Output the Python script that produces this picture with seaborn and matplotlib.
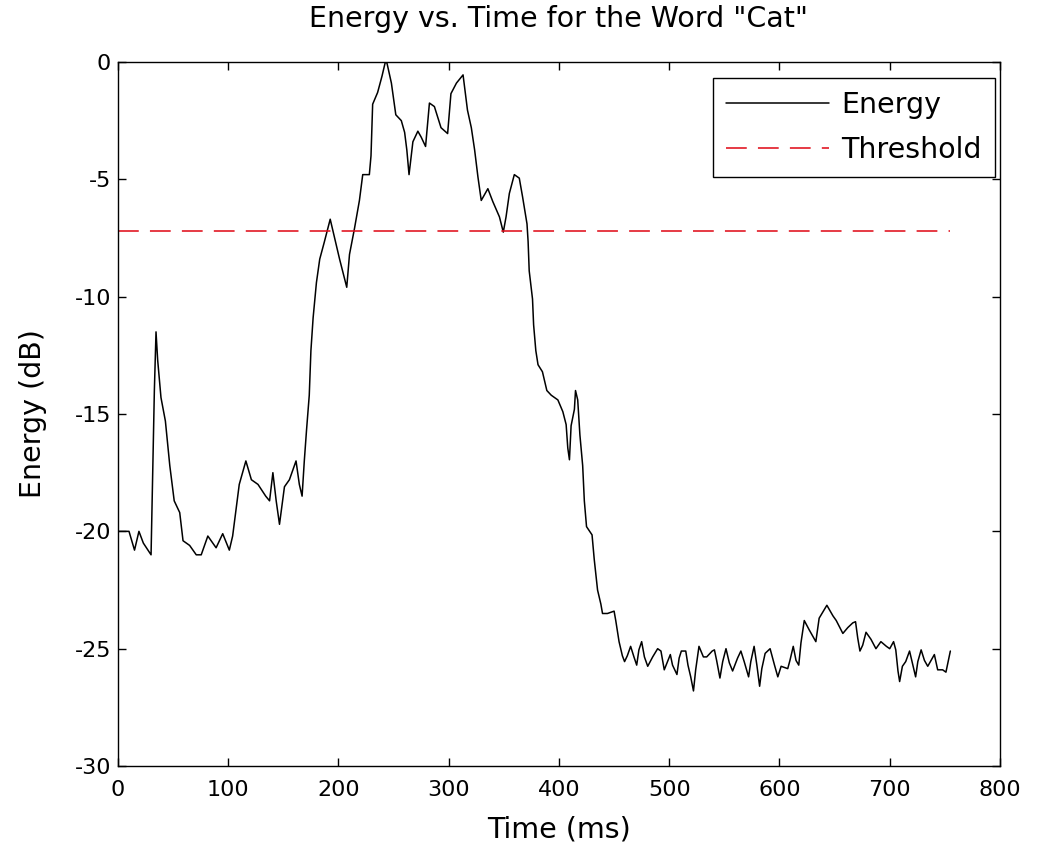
import numpy as np
import pandas as pd
import matplotlib
matplotlib.use("Agg")
import matplotlib.pyplot as plt
import seaborn as sns

# Short-time energy of the spoken word "Cat" (time in ms, energy in dB)
time_ms = [0, 10, 15, 19, 23, 30, 31, 33, 34.5, 36, 39, 43, 47, 51, 56, 59, 65, 71, 75.5,
           81.5, 89, 95, 101, 104, 107, 110, 116, 121, 127, 134, 137.5, 140.5, 143.5,
           146.5, 151, 155.5, 161.5, 164.5, 167, 169, 171, 173.5, 175, 177, 180, 183, 187,
           192.5, 195, 201, 207.5, 210, 214.5, 219, 222, 228, 229.5, 231, 235.5, 239.5,
           242.5, 244, 248, 252, 257, 260, 262, 264, 267.5, 272, 275, 279, 282.5, 287,
           293, 299, 302, 307, 313, 317, 320.5, 323.5, 326.5, 329.5, 335.5, 340, 346,
           349.5, 352, 355, 359.5, 364, 367, 371, 372, 373, 376, 377, 379, 381, 385, 389,
           393, 399, 403.5, 406.5, 408, 409.5, 411, 414, 415, 417, 419, 421.5, 423, 425,
           430, 432, 435, 438, 439.5, 444, 450, 451.5, 454.5, 457.5, 459.5, 462, 465, 468,
           470.5, 472.5, 475, 477.5, 480.5, 485, 489.5, 492.5, 495.5, 498.5, 501, 503,
           507, 509, 511, 515, 517, 519.5, 522, 524, 527, 531, 534, 539, 541, 543, 546,
           548.5, 551.5, 554.5, 557.5, 562, 565, 568, 572, 574, 577, 579.5, 582, 584, 587,
           591.5, 595.5, 598.5, 601.5, 607.5, 609.5, 612.5, 615, 617.5, 619.5, 622.5, 627,
           633, 636, 643, 648.5, 651.5, 657.5, 662, 666.5, 669, 671, 673, 675.5, 678.5,
           683, 687.5, 692, 697, 700, 703.5, 705.5, 707.5, 709, 711.5, 714.5, 718, 721,
           723.5, 725.5, 728.5, 731.5, 734.5, 737.5, 740.5, 743.5, 748, 751, 755]

energy_db = [-20.0, -20.0, -20.8, -20.0, -20.5, -21.0, -18.7, -14.0, -11.5, -12.7, -14.3,
             -15.3, -17.2, -18.7, -19.2, -20.4, -20.6, -21.0, -21.0, -20.2, -20.7, -20.1,
             -20.8, -20.2, -19.1, -18.0, -17.0, -17.8, -18.0, -18.5, -18.7, -17.5, -18.7,
             -19.7, -18.1, -17.8, -17.0, -18.0, -18.5, -17.0, -15.7, -14.2, -12.3, -10.9,
             -9.4, -8.4, -7.7, -6.7, -7.2, -8.4, -9.6, -8.2, -7.1, -5.9, -4.8, -4.8, -4.0,
             -1.8, -1.3, -0.6, 0.0, -0.05, -0.9, -2.25, -2.5, -3.0, -3.75, -4.8, -3.4,
             -2.95, -3.2, -3.6, -1.75, -1.9, -2.8, -3.05, -1.35, -0.9, -0.55, -2.05, -2.8,
             -3.75, -4.9, -5.9, -5.4, -5.95, -6.6, -7.25, -6.6, -5.6, -4.8, -4.95, -5.75,
             -6.9, -7.65, -8.9, -10.1, -11.2, -12.3, -12.9, -13.2, -14.0, -14.2, -14.4,
             -14.9, -15.45, -16.45, -16.95, -15.5, -14.8, -14.0, -14.4, -15.9, -17.2,
             -18.7, -19.8, -20.15, -21.2, -22.5, -23.1, -23.5, -23.5, -23.4, -23.8, -24.7,
             -25.3, -25.55, -25.3, -24.9, -25.35, -25.7, -25.05, -24.7, -25.35, -25.75,
             -25.35, -25.0, -25.1, -25.9, -25.55, -25.25, -25.7, -26.1, -25.4, -25.1,
             -25.1, -25.7, -26.2, -26.8, -25.9, -24.9, -25.35, -25.35, -25.1, -25.05,
             -25.5, -26.25, -25.55, -25.0, -25.6, -25.95, -25.4, -25.1, -25.55, -26.2,
             -25.55, -24.9, -25.7, -26.6, -25.85, -25.2, -25.0, -25.7, -26.2, -25.75,
             -25.85, -25.5, -24.9, -25.5, -25.7, -24.75, -23.8, -24.2, -24.7, -23.7,
             -23.15, -23.6, -23.8, -24.35, -24.1, -23.9, -23.85, -24.55, -25.1, -24.85,
             -24.3, -24.6, -25.0, -24.7, -24.9, -25.0, -24.7, -25.05, -25.95, -26.4,
             -25.75, -25.55, -25.1, -25.7, -26.2, -25.55, -25.05, -25.5, -25.75, -25.5,
             -25.25, -25.9, -25.9, -26.0, -25.1]

# Detection threshold (dB), drawn over the full utterance
threshold_db = -7.2
threshold_span = [0, 755]

x_ticks = [0, 100, 200, 300, 400, 500, 600, 700, 800]
y_ticks = [-30, -25, -20, -15, -10, -5, 0]

sns.set_style("white")
plt.rcParams["font.family"] = ["DejaVu Sans"]
plt.rcParams["axes.unicode_minus"] = False
plt.rcParams["text.color"] = "black"
plt.rcParams["axes.labelcolor"] = "black"

TEXT_SIZE = 20.5
TICK_SIZE = 16

energy_df = pd.DataFrame({"Time (ms)": time_ms, "Energy (dB)": energy_db})
thresh_df = pd.DataFrame({"Time (ms)": threshold_span,
                          "Energy (dB)": [threshold_db] * len(threshold_span)})

fig = plt.figure(figsize=(10.45, 8.56), dpi=100)
ax = fig.add_axes([0.1129, 0.1051, 0.8440, 0.8225])

sns.lineplot(data=energy_df, x="Time (ms)", y="Energy (dB)", ax=ax,
             color="black", linewidth=1.1, sort=False, estimator=None,
             label="Energy")
sns.lineplot(data=thresh_df, x="Time (ms)", y="Energy (dB)", ax=ax,
             color="#e00f1c", linewidth=1.15, sort=False, estimator=None,
             dashes=False, label="Threshold")
ax.lines[-1].set_dashes((13, 7))

ax.set_xlim(0, 800)
ax.set_ylim(-30, 0)
ax.set_xticks(x_ticks)
ax.set_yticks(y_ticks)
ax.set_xticklabels([str(v) for v in x_ticks])
ax.set_yticklabels([str(v) for v in y_ticks])

for side in ["top", "right", "bottom", "left"]:
    ax.spines[side].set_visible(True)
    ax.spines[side].set_color("black")
    ax.spines[side].set_linewidth(1.0)

ax.tick_params(axis="both", which="both", direction="in", length=6, width=1,
               top=True, right=True, bottom=True, left=True,
               labelsize=TICK_SIZE, colors="black")
ax.tick_params(axis="x", pad=10)
ax.tick_params(axis="y", pad=5)

ax.set_title('Energy vs. Time for the Word "Cat"', fontsize=TEXT_SIZE, pad=25,
             color="black")
ax.set_xlabel("Time (ms)", fontsize=TEXT_SIZE, labelpad=11)
ax.set_ylabel("Energy (dB)", fontsize=TEXT_SIZE, labelpad=20)

leg = ax.legend(loc="upper right", bbox_to_anchor=(0.9943, 0.9773),
                borderaxespad=0, fontsize=TEXT_SIZE, frameon=True,
                fancybox=False, edgecolor="black", framealpha=1,
                handlelength=3.6, handletextpad=0.45, borderpad=0.45,
                labelspacing=0.6)
leg.get_frame().set_linewidth(1.0)
for txt in leg.get_texts():
    txt.set_color("black")

fig.savefig("out.png", dpi=100, facecolor="white")
